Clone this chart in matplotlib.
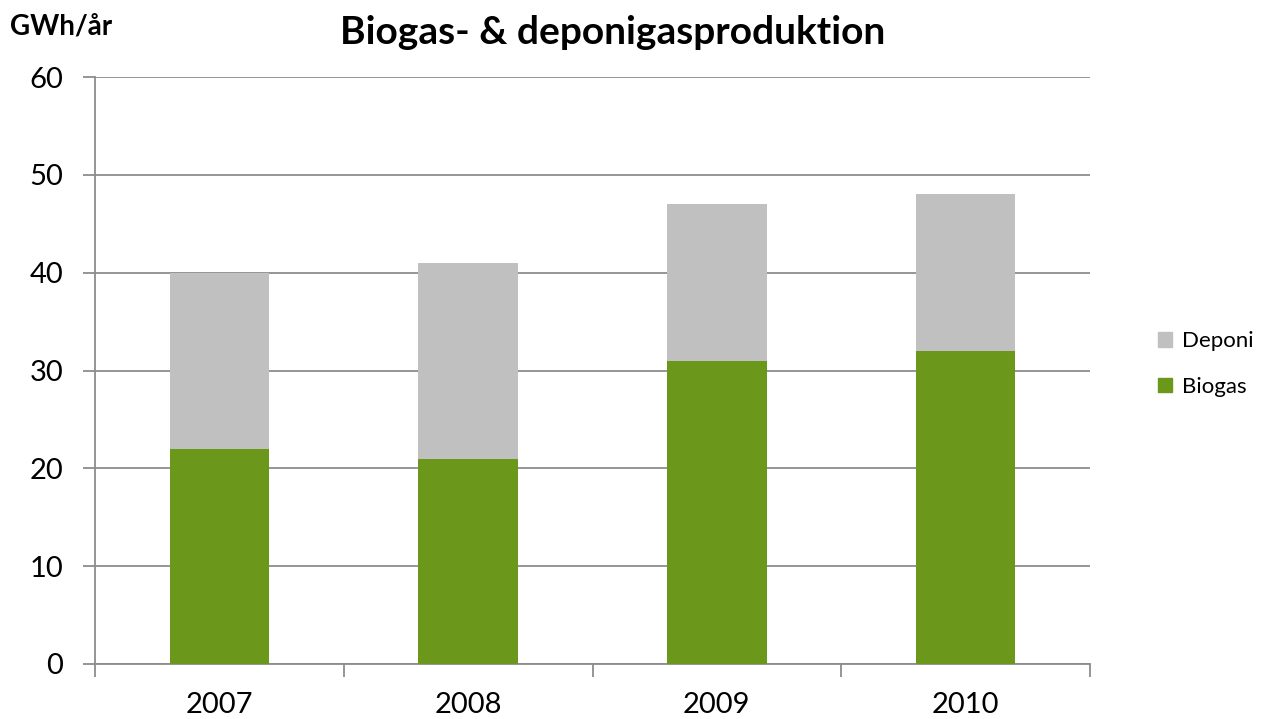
import numpy as np
import matplotlib.pyplot as plt
from matplotlib.patches import Patch

plt.rcParams['font.family'] = ['Lato', 'DejaVu Sans']

years = ['2007', '2008', '2009', '2010']
biogas = [22, 21, 31, 32]
deponi = [18, 20, 16, 16]

green = '#6b971b'
grey = '#c0c0c0'
axcol = '#8c8c8c'

fig = plt.figure(figsize=(12.72, 7.19), dpi=100)
ax = fig.add_axes([95/1272, 55/719, 995/1272, 587/719])

x = np.arange(len(years))
ax.bar(x, biogas, width=0.4, color=green, zorder=3)
ax.bar(x, deponi, width=0.4, bottom=biogas, color=grey, zorder=3)

ax.set_xlim(-0.5, len(years) - 0.5)
ax.set_ylim(0, 60)
ax.set_yticks(range(0, 61, 10))
ax.yaxis.grid(True, color=axcol, linewidth=1.3, zorder=0)

# category ticks sit between bars, labels under bars
ax.set_xticks(np.arange(-0.5, len(years)), minor=False)
ax.set_xticklabels([])
ax.set_xticks(x, minor=True)
ax.set_xticklabels(years, minor=True)
ax.tick_params(axis='x', which='major', length=9, width=1.3, color=axcol)
ax.tick_params(axis='x', which='minor', length=0, labelsize=21, pad=20)
ax.tick_params(axis='y', length=9, width=1.3, color=axcol, labelsize=21, pad=14)

for s in ['top', 'right']:
    ax.spines[s].set_visible(False)
for s in ['left', 'bottom']:
    ax.spines[s].set_color(axcol)
    ax.spines[s].set_linewidth(1.3)

fig.text(613/1272, 1 - 32/719, 'Biogas- & deponigasproduktion', ha='center', va='center',
         fontsize=28, fontweight='bold')
fig.text(10/1272, 1 - 26/719, 'GWh/år', ha='left', va='center', fontsize=20, fontweight='bold')

handles = [Patch(color=grey, label='Deponi'), Patch(color=green, label='Biogas')]
fig.legend(handles=handles, loc='center left', bbox_to_anchor=(1138/1272, 1 - 364/719),
           frameon=False, fontsize=16, handlelength=0.65, handleheight=0.65,
           handletextpad=0.45, labelspacing=1.15)

fig.savefig('out.png', dpi=100)
